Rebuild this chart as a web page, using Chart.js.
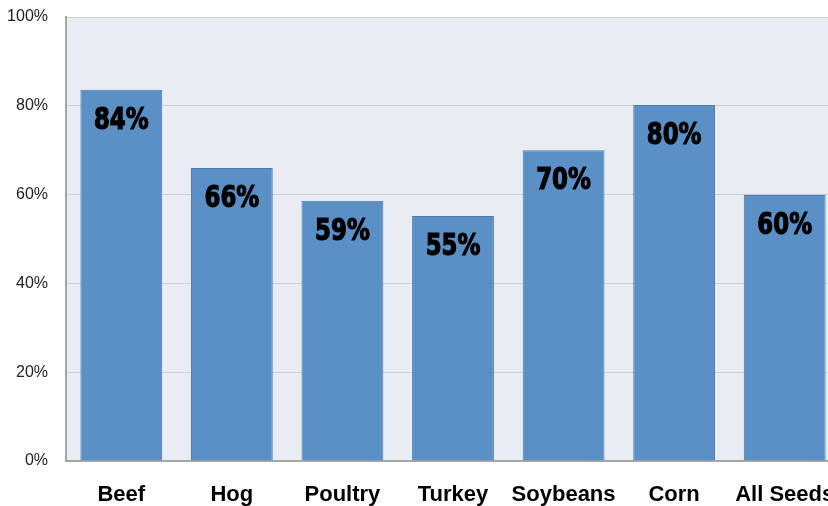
<!DOCTYPE html>
<html lang="en">
<head>
    <meta charset="UTF-8">
    <title>Adoption by category</title>
    <script src="https://cdn.jsdelivr.net/npm/chart.js"></script>
    <style>
        html, body {
            margin: 0;
            padding: 0;
            background: #ffffff;
            overflow: hidden;
        }
        #barChart {
            position: absolute;
            left: 0;
            top: 0;
        }
    </style>
</head>
<body>

<canvas id="barChart" width="840" height="506"></canvas>

<script>
    const categories = ['Beef', 'Hog', 'Poultry', 'Turkey', 'Soybeans', 'Corn', 'All Seeds'];
    const shares = [83.6, 66.0, 58.6, 55.2, 70.0, 80.2, 59.9];
    const shareLabels = ['84%', '66%', '59%', '55%', '70%', '80%', '60%'];
    const yTicks = [0, 20, 40, 60, 80, 100];

    // light plot background behind the bars
    const plotBackground = {
        id: 'plotBackground',
        beforeDraw(chart) {
            const { ctx, chartArea: a } = chart;
            ctx.save();
            ctx.fillStyle = '#e9ecf2';
            ctx.fillRect(a.left, a.top, a.right - a.left, a.bottom - a.top);
            ctx.restore();
        }
    };

    // big value labels near the top of each bar (squeezed to look condensed)
    const valueLabels = {
        id: 'valueLabels',
        afterDatasetsDraw(chart) {
            const { ctx } = chart;
            const meta = chart.getDatasetMeta(0);
            ctx.save();
            ctx.fillStyle = '#000000';
            ctx.strokeStyle = '#000000';
            ctx.lineWidth = 1.2;
            ctx.font = 'bold 31px "DejaVu Sans Condensed", "DejaVu Sans", sans-serif';
            ctx.textAlign = 'center';
            ctx.textBaseline = 'middle';
            meta.data.forEach((bar, i) => {
                ctx.save();
                ctx.translate(bar.x, bar.y + 31);
                ctx.scale(0.82, 1);
                ctx.fillText(shareLabels[i], 0, 0);
                ctx.strokeText(shareLabels[i], 0, 0);
                ctx.restore();
            });
            ctx.restore();
        }
    };

    new Chart(document.getElementById('barChart'), {
        type: 'bar',
        data: {
            labels: categories,
            datasets: [{
                data: shares,
                backgroundColor: '#5b90c6',
                borderColor: '#4a7bb0',
                borderWidth: 1,
                barPercentage: 0.74,
                categoryPercentage: 1.0
            }]
        },
        options: {
            responsive: false,
            animation: false,
            layout: { padding: { top: 17, right: 0, left: 0, bottom: 0 } },
            plugins: {
                legend: { display: false },
                tooltip: { enabled: false }
            },
            scales: {
                x: {
                    grid: { display: true, drawOnChartArea: false, drawTicks: true, tickLength: 21, tickColor: 'rgba(0,0,0,0)', color: 'rgba(0,0,0,0)' },
                    border: { color: '#a6a6a6', width: 2 },
                    ticks: {
                        color: '#000000',
                        padding: 0,
                        maxRotation: 0,
                        minRotation: 0,
                        autoSkip: false,
                        font: { family: '"Liberation Sans", Arial, sans-serif', size: 22, weight: 'bold' }
                    },
                    afterFit: s => { s.height = 45; }
                },
                y: {
                    min: 0,
                    max: 100,
                    afterBuildTicks: s => { s.ticks = yTicks.map(v => ({ value: v })); },
                    grid: { color: '#cdd0d5', lineWidth: 1, drawTicks: true, tickLength: 18, tickColor: 'rgba(0,0,0,0)' },
                    border: { color: '#a6a6a6', width: 2 },
                    ticks: {
                        color: '#222222',
                        padding: 0,
                        font: { family: '"Liberation Sans", Arial, sans-serif', size: 16 },
                        callback: v => v + '%'
                    },
                    afterFit: s => { s.width = 66; }
                }
            }
        },
        plugins: [plotBackground, valueLabels]
    });
</script>

</body>
</html>
